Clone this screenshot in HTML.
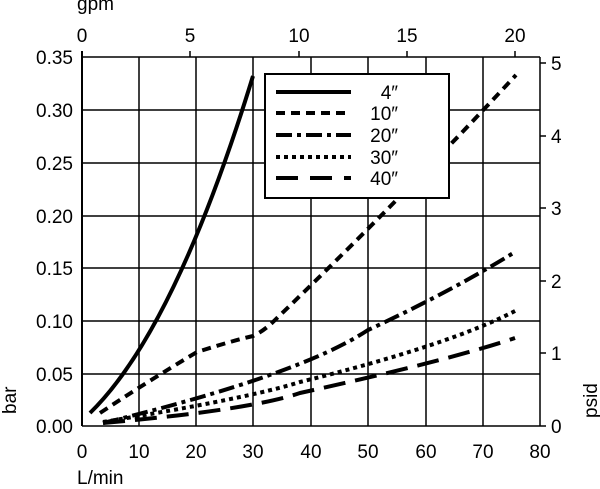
<!DOCTYPE html>
<html><head><meta charset="utf-8"><style>body{margin:0;background:#fff}svg{display:block}text{font-family:"Liberation Sans",sans-serif;font-size:19px;fill:#000}</style></head><body>
<svg width="600" height="489" viewBox="0 0 600 489">
<g stroke="#000" stroke-width="1.5" fill="none">
<path d="M139 57V426M196 57V426M253 57V426M311 57V426M368 57V426M426 57V426M483 57V426M540 57V426"/>
<path d="M82 57H540M82 110H540M82 163H540M82 216H540M82 268H540M82 321H540M82 374H540M82 426H540"/>
<path d="M82 51V426" stroke-width="2"/>
<path d="M82 51V57M190 51V57M299 51V57M407 51V57M515 51V57"/>
<path d="M540 63H546M540 136H546M540 208H546M540 281H546M540 353H546M540 426H546"/>
</g>
<g stroke="#000" stroke-width="4" fill="none" stroke-linejoin="round">
<path d="M90 413 Q175 330 253 76"/>
<path stroke-dasharray="9,6" d="M100 413 Q150 380 197 352 Q235 340 253 336 Q264 331 275 320 Q400 200 516 75"/>
<path stroke-dasharray="16,5,4,5" d="M103 423 Q300 375 368 330 Q450 292 515 252"/>
<path stroke-dasharray="4,4" d="M103 422 Q250 398 300 382 Q450 345 517 310"/>
<path stroke-dasharray="22,10" d="M103 423 Q250 410 300 393 Q450 360 515 338"/>
</g>
<rect x="265" y="74" width="184" height="124" fill="#fff" stroke="#000" stroke-width="2"/>
<g stroke="#000" stroke-width="4">
<path d="M276 92H351"/>
<path d="M276 113H351" stroke-dasharray="9,6"/>
<path d="M276 135H351" stroke-dasharray="16,5,4,5"/>
<path d="M276 157H351" stroke-dasharray="4,4"/>
<path d="M276 178H351" stroke-dasharray="22,12"/>
</g>
<g text-anchor="end" style="font-size:20px">
<text x="398" y="99">4″</text><text x="398" y="120">10″</text><text x="398" y="142">20″</text><text x="398" y="164">30″</text><text x="398" y="185">40″</text>
</g>
<g text-anchor="end">
<text x="73" y="64">0.35</text><text x="73" y="117">0.30</text><text x="73" y="170">0.25</text><text x="73" y="223">0.20</text><text x="73" y="275">0.15</text><text x="73" y="328">0.10</text><text x="73" y="381">0.05</text><text x="73" y="433">0.00</text>
</g>
<g text-anchor="middle">
<text x="82" y="458">0</text><text x="139" y="458">10</text><text x="196" y="458">20</text><text x="253" y="458">30</text><text x="311" y="458">40</text><text x="368" y="458">50</text><text x="426" y="458">60</text><text x="483" y="458">70</text><text x="540" y="458">80</text>
<text x="82" y="42">0</text><text x="190" y="42">5</text><text x="299" y="42">10</text><text x="407" y="42">15</text><text x="515" y="42">20</text>
</g>
<g>
<text x="551" y="70">5</text><text x="551" y="143">4</text><text x="551" y="215">3</text><text x="551" y="288">2</text><text x="551" y="360">1</text><text x="551" y="433">0</text>
</g>
<text x="77" y="10">gpm</text>
<text x="77" y="484">L/min</text>
<text transform="translate(16,414) rotate(-90)">bar</text>
<text transform="translate(597,418) rotate(-90)">psid</text>
</svg>
</body></html>
